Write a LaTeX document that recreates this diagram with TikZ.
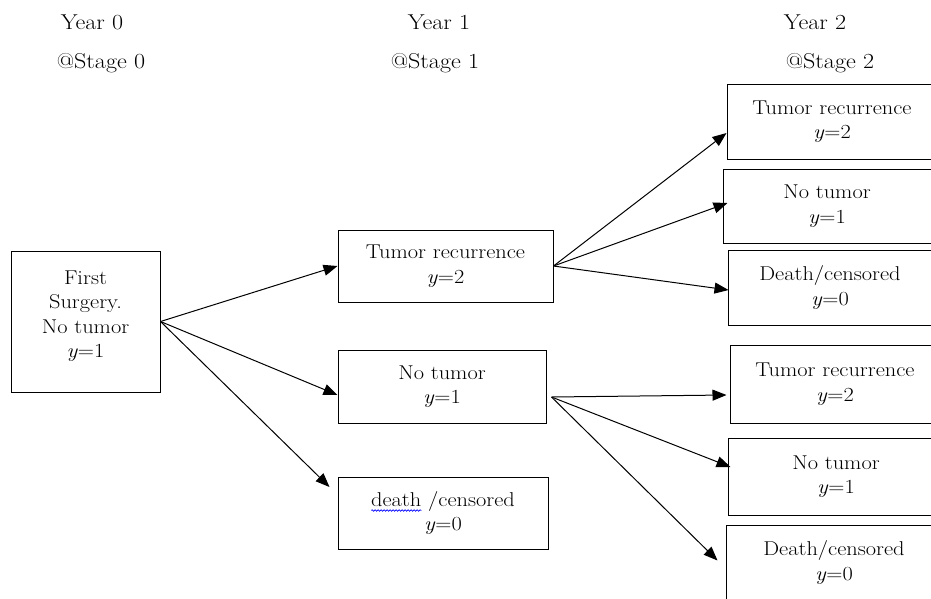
\documentclass[tikz,border=0pt]{standalone}
\usepackage{fontspec}
\setmainfont{Latin Modern Roman}[FakeStretch=1.12]
\usetikzlibrary{arrows.meta,calc,decorations.pathmorphing}
\newlength\dwall
\newlength\dwone
\newcommand{\yv}{\textit{y}}
\begin{document}
\settowidth{\dwall}{\fontsize{20}{24.5}\selectfont death /censored}%
\settowidth{\dwone}{\fontsize{20}{24.5}\selectfont death}%
\begin{tikzpicture}[x=1pt,y=-1pt,
  box/.style={draw=black,line width=1pt,align=center,inner sep=0pt,
    font=\fontsize{20}{24.5}\selectfont},
  hdr/.style={font=\fontsize{21.5}{24}\selectfont,inner sep=0pt},
  arr/.style={line width=1pt,-{Triangle[length=14pt,width=11pt]}},
  spell/.style={draw=blue,line width=0.6pt,decorate,
    decoration={snake,amplitude=0.8pt,segment length=3pt}}]
\clip (0,0) rectangle (931,598);
% headers
\node[hdr] (h0a) at (92,22) {Year 0};
\node[hdr] (h0b) at (101,63) {@Stage 0};
\node[hdr] (h1a) at (439,22) {Year 1};
\node[hdr] (h1b) at (435,63) {@Stage 1};
\node[hdr] (h2a) at (815,22) {Year 2};
\node[hdr] (h2b) at (830,63) {@Stage 2};
% boxes
\node[box,minimum width=149,minimum height=141] (A) at (85.5,321.5)
  {First\\Surgery.\\No tumor\\\yv=1\\[-10pt]};
\node[box,minimum width=215,minimum height=72] (B1) at (445.5,266)
  {Tumor recurrence\\\yv=2};
\node[box,minimum width=208,minimum height=73] (B2) at (442,386.5)
  {No tumor\\\yv=1};
\node[box,minimum width=210,minimum height=72] (B3) at (443,513)
  {death /censored\\\yv=0};
\node[box,minimum width=210,minimum height=75] (C1) at (832,121.5)
  {Tumor recurrence\\\yv=2};
\node[box,minimum width=208,minimum height=74] (C2) at (827,206)
  {No tumor\\\yv=1};
\node[box,minimum width=204,minimum height=75] (C3) at (830,287.5)
  {Death/censored\\\yv=0};
\node[box,minimum width=210,minimum height=78] (D1) at (835,384)
  {Tumor recurrence\\\yv=2};
\node[box,minimum width=216,minimum height=77] (D2) at (836,476.5)
  {No tumor\\\yv=1};
\node[box,minimum width=216,minimum height=75] (D3) at (834,562.5)
  {Death/censored\\\yv=0};
% spell-check underline
\draw[spell] ($(B3.center)+({-0.5*\dwall},2.5pt)$) -- ++(\dwone,0pt);
% connectors
\coordinate (Bo) at ($(B2.east)+(5,10.5)$);
\draw[arr] (A.east) -- (B1.west);
\draw[arr] (A.east) -- ($(B2.west)+(0,8.5)$);
\draw[arr] (A.east) -- ($(B3.west)+(-8,-26)$);
\draw[arr] (B1.east) -- ($(C1.west)+(0,11.5)$);
\draw[arr] (B1.east) -- ($(C2.west)+(5,-3)$);
\draw[arr] (B1.east) -- ($(C3.west)+(1,2.5)$);
\draw[arr] (Bo) -- ($(D1.west)+(-3,11)$);
\draw[arr] (Bo) -- ($(D2.west)+(3,-9.5)$);
\draw[arr] (Bo) -- ($(D3.west)+(-8,-2)$);
\end{tikzpicture}
\end{document}
